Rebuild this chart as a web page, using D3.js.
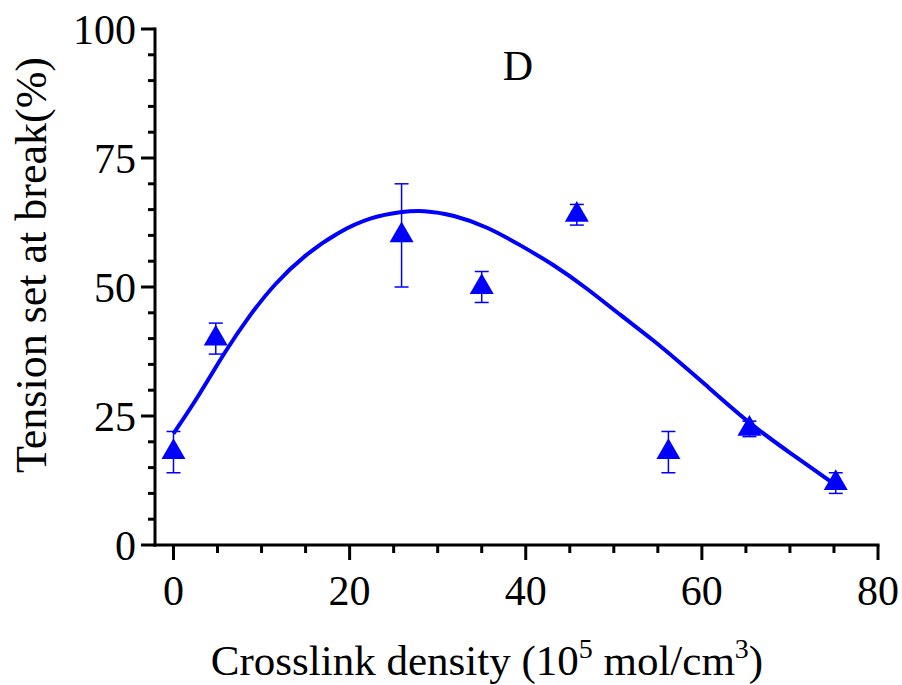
<!DOCTYPE html>
<html>
<head>
<meta charset="utf-8">
<title>Tension set at break</title>
<style>
  body { margin: 0; background: #fff; }
  text { font-family: "Liberation Serif", "Times New Roman", serif; fill: #000; }
</style>
</head>
<body>
<script src="https://d3js.org/d3.v7.min.js"></script>
<script>

// measured points (crosslink density, tension set, error)
var density = [0, 4.8, 25.9, 35.0, 45.8, 56.2, 65.4, 75.2];
var tension = [18, 40, 60, 50, 64, 18, 22.5, 12];
var errors  = [4, 3, 10, 3, 2, 4, 1.5, 2];

// fitted curve
var fitX = [0, 2.8, 5.85, 8.5, 11.5, 14.9, 18.7, 22.5, 25.9, 28.3, 31.8, 35.6, 39.4, 43.2, 47.0, 50.7, 54.5, 57.6, 59.8, 65.5, 70.4, 75.2];
var fitY = [21.6, 28.7, 37.5, 44.2, 50.7, 56.2, 60.7, 63.6, 64.6, 64.9, 64.0, 61.7, 58.1, 54.3, 49.7, 44.6, 39.7, 35.2, 32.0, 23.3, 17.4, 11.6];

var xTicks = [0, 20, 40, 60, 80];
var yTicks = [0, 25, 50, 75, 100];

var width = 902, height = 685;
var mLeft = 155, mRight = 878, mTop = 29, mBottom = 545;

var svg = d3.select("body")
    .append("svg")
    .attr("width", width)
    .attr("height", height);

var x = d3.scaleLinear().domain([-2.1, 80]).range([mLeft, mRight]);
var y = d3.scaleLinear().domain([0, 100]).range([mBottom, mTop]);

// x axis: majors every 20, minors every 5
var xAxis = svg.append("g").attr("transform", "translate(0," + mBottom + ")");
xAxis.append("line")
    .attr("x1", mLeft - 1.5).attr("x2", mRight + 1.5)
    .attr("stroke", "#000").attr("stroke-width", 3);
xAxis.selectAll(".minor")
    .data(d3.range(0, 81, 5))
    .enter().append("line")
    .attr("x1", d => x(d)).attr("x2", d => x(d))
    .attr("y1", 0).attr("y2", d => d % 20 === 0 ? 15 : 8)
    .attr("stroke", "#000").attr("stroke-width", 3);
xAxis.selectAll(".lbl")
    .data(xTicks)
    .enter().append("text")
    .attr("x", d => x(d)).attr("y", 60)
    .attr("text-anchor", "middle")
    .attr("font-size", 42)
    .text(d => d);

// y axis: majors every 25, minors every 5
var yAxis = svg.append("g").attr("transform", "translate(" + mLeft + ",0)");
yAxis.append("line")
    .attr("y1", mTop - 1.5).attr("y2", mBottom + 1.5)
    .attr("stroke", "#000").attr("stroke-width", 3);
yAxis.selectAll(".minor")
    .data(d3.range(0, 101, 5))
    .enter().append("line")
    .attr("y1", d => y(d)).attr("y2", d => y(d))
    .attr("x1", 0).attr("x2", d => d % 25 === 0 ? -14 : -7)
    .attr("stroke", "#000").attr("stroke-width", 3);
yAxis.selectAll(".lbl")
    .data(yTicks)
    .enter().append("text")
    .attr("x", -19).attr("y", d => y(d))
    .attr("dy", "0.35em")
    .attr("text-anchor", "end")
    .attr("font-size", 42)
    .text(d => d);

// axis titles
var xt = svg.append("text")
    .attr("x", 487).attr("y", 675)
    .attr("text-anchor", "middle")
    .attr("font-size", 43)
    .text("Crosslink density (10");
xt.append("tspan").attr("font-size", 28).attr("dy", -17).text("5");
xt.append("tspan").attr("dy", 17).text(" mol/cm");
xt.append("tspan").attr("font-size", 28).attr("dy", -17).text("3");
xt.append("tspan").attr("dy", 17).text(")");

svg.append("text")
    .attr("transform", "translate(46,265) rotate(-90)")
    .attr("text-anchor", "middle")
    .attr("font-size", 44)
    .text("Tension set at break(%)");

svg.append("text")
    .attr("x", 518).attr("y", 80)
    .attr("text-anchor", "middle")
    .attr("font-size", 42)
    .text("D");

// fit line
var fit = fitX.map((d, i) => [d, fitY[i]]);
svg.append("path")
    .datum(fit)
    .attr("fill", "none")
    .attr("stroke", "#0000ff")
    .attr("stroke-width", 4)
    .attr("d", d3.line().x(d => x(d[0])).y(d => y(d[1])).curve(d3.curveBasis));

// error bars
var pts = density.map((d, i) => ({x: d, y: tension[i], e: errors[i]}));
var eb = svg.selectAll(".eb").data(pts).enter().append("g");
eb.append("line")
    .attr("x1", d => x(d.x)).attr("x2", d => x(d.x))
    .attr("y1", d => y(d.y + d.e)).attr("y2", d => y(d.y - d.e))
    .attr("stroke", "#0000ff").attr("stroke-width", 1.5);
eb.selectAll(".cap")
    .data(d => [[d.x, d.y + d.e], [d.x, d.y - d.e]])
    .enter().append("line")
    .attr("x1", d => x(d[0]) - 7).attr("x2", d => x(d[0]) + 7)
    .attr("y1", d => y(d[1])).attr("y2", d => y(d[1]))
    .attr("stroke", "#0000ff").attr("stroke-width", 1.5);

// triangle markers
svg.selectAll(".pt")
    .data(pts)
    .enter().append("path")
    .attr("transform", d => "translate(" + x(d.x) + "," + y(d.y) + ")")
    .attr("d", d3.symbol().type(d3.symbolTriangle).size(250))
    .attr("fill", "#0000ff");

</script>
</body>
</html>
